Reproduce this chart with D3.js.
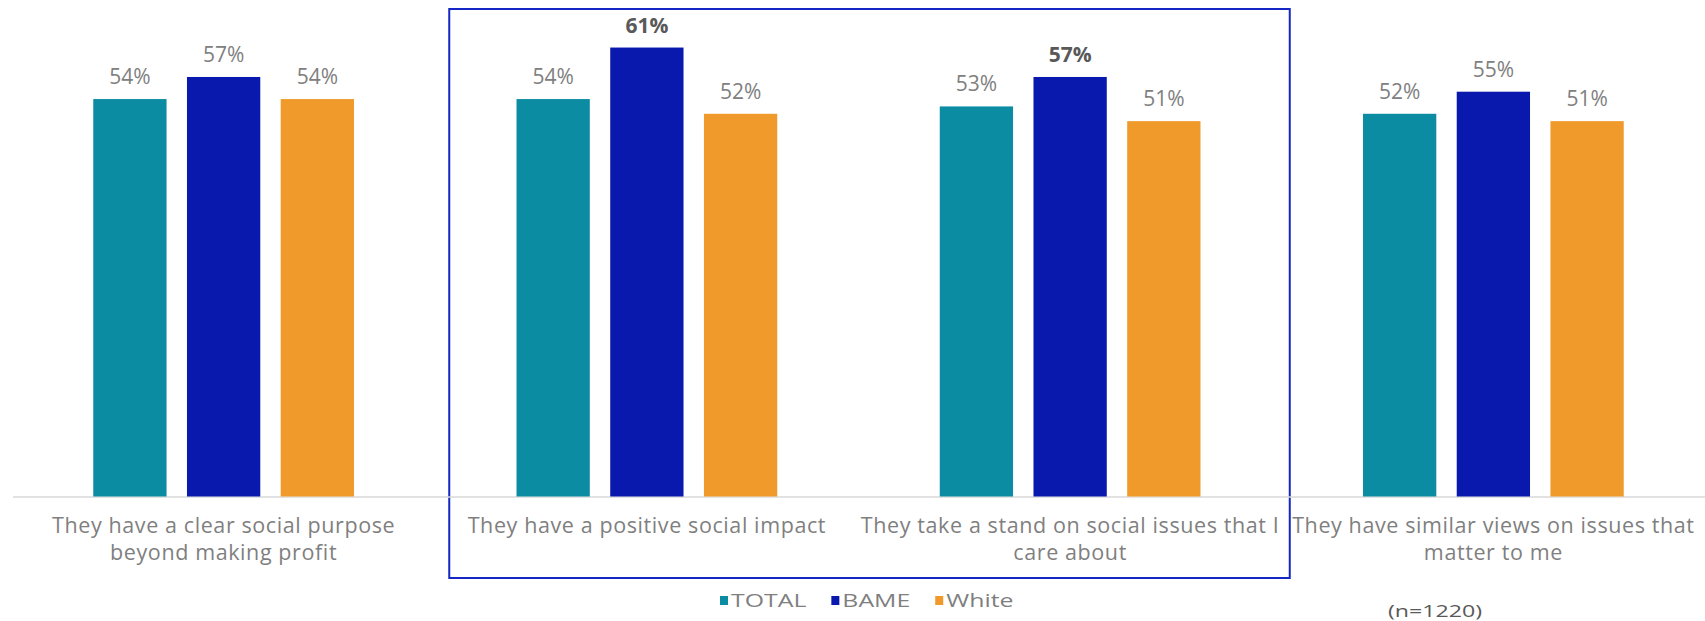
<!DOCTYPE html>
<html>
<head>
<meta charset="utf-8">
<script src="https://cdn.jsdelivr.net/npm/d3@7"></script>
<style>
  body { margin: 0; background: #fff; }
  svg { display: block; font-family: "Open Sans", sans-serif; }
</style>
</head>
<body>
<svg id="chart" width="1705" height="621"></svg>
<script>
// data
const categories = [
    "They have a clear social purpose beyond making profit",
    "They have a positive social impact",
    "They take a stand on social issues that I care about",
    "They have similar views on issues that matter to me"
]
const categoryLines = [
    ["They have a clear social purpose", "beyond making profit"],
    ["They have a positive social impact"],
    ["They take a stand on social issues that I", "care about"],
    ["They have similar views on issues that", "matter to me"]
]
const seriesNames = ["TOTAL", "BAME", "White"]
const totalValues = [0.54, 0.54, 0.53, 0.52]
const bameValues = [0.57, 0.61, 0.57, 0.55]
const whiteValues = [0.54, 0.52, 0.51, 0.51]
// which labels are bold (BAME in the highlighted pair)
const boldLabels = [[false, false, false], [false, true, false], [false, true, false], [false, false, false]]
const colors = ["#0b8ca2", "#0a19ad", "#f09a2c"]
const highlighted = [categories[1], categories[2]]
const sampleNote = "(n=1220)"

const svg = d3.select("#chart")
const baseline = 496.5

const x0 = d3.scaleBand()
    .domain(categories)
    .range([12, 1705])
    .paddingInner(0.384)
    .paddingOuter(0.192)

const x1 = d3.scaleBand()
    .domain(seriesNames)
    .range([0, x0.bandwidth()])
    .paddingInner(0.218)

const y = d3.scaleLinear()
    .domain([0, 0.6])
    .range([baseline, baseline - 0.6 * 736])

const rows = categories.map((c, i) => ({
    cat: c,
    lines: categoryLines[i],
    vals: [totalValues[i], bameValues[i], whiteValues[i]].map((v, j) => ({
        series: seriesNames[j], value: v, bold: boldLabels[i][j], color: colors[j]
    }))
}))

// highlight box round the middle two categories
const gap = x0.step() - x0.bandwidth()
const boxLeft = x0(highlighted[0]) - gap / 2 + 14
const boxRight = x0(highlighted[1]) + x0.bandwidth() + gap / 2 + 8
svg.append("rect")
    .attr("x", boxLeft)
    .attr("y", 9)
    .attr("width", boxRight - boxLeft)
    .attr("height", 569)
    .attr("fill", "none")
    .attr("stroke", "#1427c4")
    .attr("stroke-width", 2)

// baseline
svg.append("line")
    .attr("x1", 13).attr("x2", 1705)
    .attr("y1", baseline + 0.5).attr("y2", baseline + 0.5)
    .attr("stroke", "#d9d9d9")
    .attr("stroke-width", 1.5)

const groups = svg.selectAll("g.cat")
    .data(rows)
    .join("g")
    .attr("class", "cat")
    .attr("transform", d => `translate(${x0(d.cat)},0)`)

groups.selectAll("rect")
    .data(d => d.vals)
    .join("rect")
    .attr("x", d => x1(d.series))
    .attr("y", d => y(d.value))
    .attr("width", x1.bandwidth())
    .attr("height", d => baseline - y(d.value))
    .attr("fill", d => d.color)

groups.selectAll("text.val")
    .data(d => d.vals)
    .join("text")
    .attr("class", "val")
    .attr("x", d => x1(d.series) + x1.bandwidth() / 2)
    .attr("y", d => y(d.value) - 15)
    .attr("text-anchor", "middle")
    .attr("font-size", 21)
    .attr("font-weight", d => d.bold ? 700 : 400)
    .attr("fill", d => d.bold ? "#595959" : "#808080")
    .text(d => d3.format(".0%")(d.value))

// category labels
groups.append("text")
    .attr("class", "cat-label")
    .attr("text-anchor", "middle")
    .attr("font-size", 21.5)
    .attr("letter-spacing", 0.6)
    .attr("fill", "#7f7f7f")
    .selectAll("tspan")
    .data(d => d.lines)
    .join("tspan")
    .attr("x", x0.bandwidth() / 2)
    .attr("y", (d, i) => 533 + i * 27)
    .text(d => d)

// legend, text is drawn a bit wide like the original
const stretch = 1.38
const legend = svg.append("g").attr("transform", "translate(720,0)")
let lx = 0
seriesNames.forEach((name, i) => {
    legend.append("rect")
        .attr("x", lx).attr("y", 596)
        .attr("width", 8).attr("height", 9)
        .attr("fill", colors[i])
    const t = legend.append("text")
        .attr("transform", `translate(${lx + 11},606.5) scale(${stretch},1)`)
        .attr("font-size", 18)
        .attr("fill", "#7f7f7f")
        .text(name)
    lx += 11 + t.node().getComputedTextLength() * stretch + 25
})

svg.append("text")
    .attr("transform", `translate(1388,617) scale(1.45,1)`)
    .attr("font-size", 16)
    .attr("fill", "#595959")
    .text(sampleNote)
</script>
</body>
</html>
